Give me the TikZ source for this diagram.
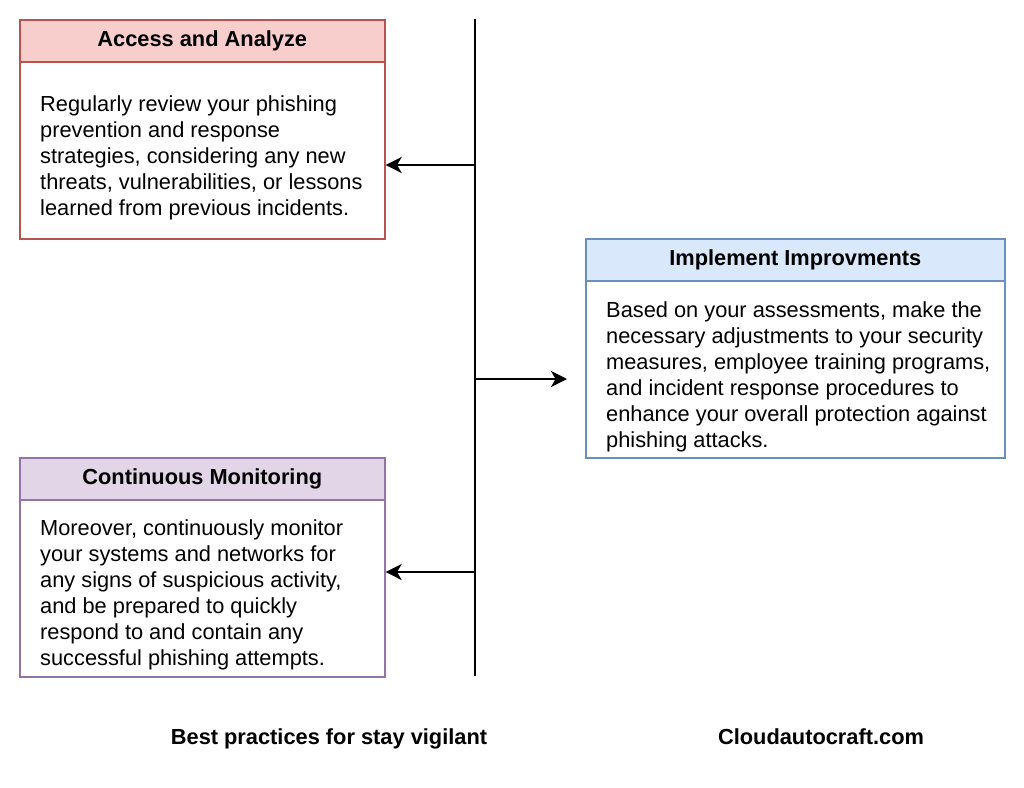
\documentclass[tikz,border=0pt]{standalone}
\usepackage{fontspec}
\setmainfont{Liberation Sans}
\usetikzlibrary{arrows.meta}
\definecolor{redfill}{HTML}{F8CECC}\definecolor{redline}{HTML}{B85450}
\definecolor{bluefill}{HTML}{DAE8FC}\definecolor{blueline}{HTML}{6C8EBF}
\definecolor{purfill}{HTML}{E1D5E7}\definecolor{purline}{HTML}{9673A6}
\tikzset{
  card/.style={draw, line width=1.6pt, anchor=north west, inner sep=0pt},
  head/.style={draw, line width=1.6pt, anchor=north west, inner sep=0pt, minimum height=42pt,
    font=\fontsize{21.8}{26}\selectfont\bfseries},
  body/.style={anchor=north west, inner sep=0pt, align=left,
    font=\fontsize{21.8}{26}\selectfont},
  foot/.style={font=\fontsize{21.8}{26}\selectfont\bfseries},
  link/.style={line width=2pt, -{Stealth[length=16pt,width=16pt,inset=4.5pt]}},
  spine/.style={line width=2pt}
}
\begin{document}
\begin{tikzpicture}[x=1pt,y=-1pt]
\useasboundingbox[fill=white] (0,0) rectangle (1024,787);
% Box A
\node[card, draw=redline, minimum width=365pt, minimum height=219pt] (A) at (19,19) {};
\node[head, fill=redfill, draw=redline, minimum width=365pt] (Ah) at (19,19) {Access and Analyze};
\node[body] (At) at (40,96) {Regularly review your phishing\\prevention and response\\strategies, considering any new\\threats, vulnerabilities, or lessons\\learned from previous incidents.};
% Box B
\node[card, draw=blueline, minimum width=419pt, minimum height=219pt] (B) at (585,238) {};
\node[head, fill=bluefill, draw=blueline, minimum width=419pt] (Bh) at (585,238) {Implement Improvments};
\node[body] (Bt) at (606,301) {Based on your assessments, make the\\necessary adjustments to your security\\measures, employee training programs,\\and incident response procedures to\\enhance your overall protection against\\phishing attacks.};
% Box C
\node[card, draw=purline, minimum width=365pt, minimum height=219pt] (C) at (19,457) {};
\node[head, fill=purfill, draw=purline, minimum width=365pt] (Ch) at (19,457) {Continuous Monitoring};
\node[body] (Ct) at (40,519) {Moreover, continuously monitor\\your systems and networks for\\any signs of suspicious activity,\\and be prepared to quickly\\respond to and contain any\\successful phishing attempts.};
% spine
\coordinate (top) at (475,19);
\coordinate (bot) at (475,676);
\coordinate (pA) at (475,165);
\coordinate (pB) at (475,379);
\coordinate (pC) at (475,572);
\coordinate (eB) at (567,379);
\draw[spine] (top) -- (bot);
\draw[link] (pA) -- (A.east |- pA);
\draw[link] (pB) -- (eB);
\draw[link] (pC) -- (C.east |- pC);
% footer
\node[foot] (f1) at (329,739) {Best practices for stay vigilant};
\node[foot] (f2) at (821,737) {Cloudautocraft.com};
\end{tikzpicture}
\end{document}
